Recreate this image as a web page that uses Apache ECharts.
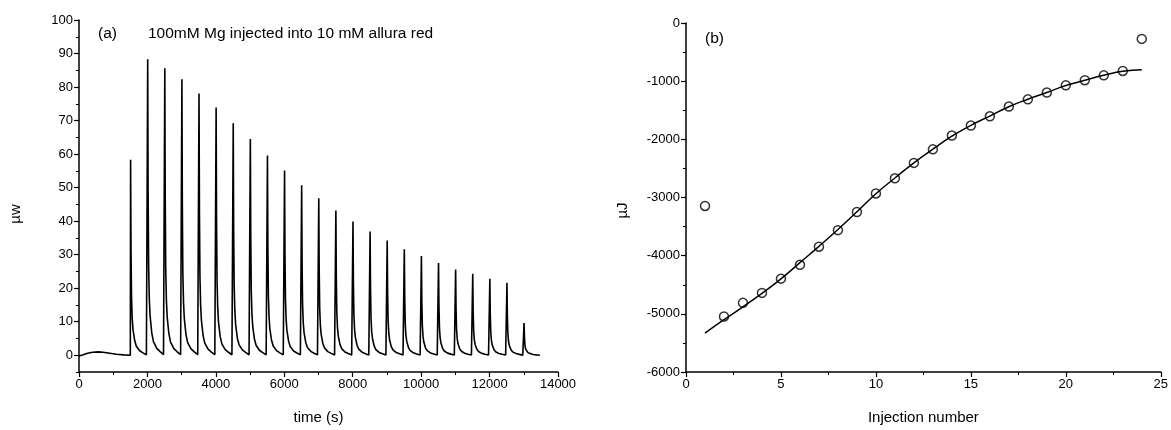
<!DOCTYPE html>
<html>
<head>
<meta charset="utf-8">
<script src="https://cdn.jsdelivr.net/npm/echarts@6/dist/echarts.min.js"></script>
<style>
  body { margin: 0; background: #fff; }
  #main { width: 1171px; height: 430px; }
</style>
</head>
<body>
<div id="main"></div>
<script>
// (a) thermogram: injection times (s) and peak heights (µw)
var injectionTimes = [1500, 2000, 2500, 3000, 3500, 4000, 4500, 5000, 5500, 6000, 6500, 7000,
  7500, 8000, 8500, 9000, 9500, 10000, 10500, 11000, 11500, 12000, 12500, 13000];
var peakHeights = [58.3, 88.3, 85.6, 82.3, 78.1, 73.9, 69.2, 64.5, 59.6, 55.1, 50.7, 46.8,
  43.2, 39.9, 36.9, 34.2, 31.6, 29.6, 27.5, 25.6, 24.3, 22.8, 21.6, 9.6];
// shape of one spike: seconds after injection / fraction of peak
var spikeOffsets = [0, 8, 20, 35, 55, 78, 127, 176, 273, 370, 470];
var spikeFractions = [0, 1, 0.55, 0.3, 0.19, 0.133, 0.075, 0.046, 0.023, 0.012, 0.002];
// pre-injection baseline
var baseTimes = [0, 100, 250, 400, 565, 700, 900, 1100, 1300, 1500];
var baseValues = [-0.2, 0.1, 0.6, 0.9, 1.0, 0.9, 0.6, 0.3, 0.1, 0];
var yTicksA = [0, 10, 20, 30, 40, 50, 60, 70, 80, 90, 100];
var yMinorA = [-5, 5, 15, 25, 35, 45, 55, 65, 75, 85, 95];

// (b) integrated heats (µJ) and fit
var injNumbers = [1, 2, 3, 4, 5, 6, 7, 8, 9, 10, 11, 12, 13, 14, 15, 16, 17, 18, 19, 20, 21, 22, 23, 24];
var heats = [-3145, -5045, -4811, -4640, -4395, -4157, -3846, -3561, -3249, -2930, -2670, -2405,
  -2172, -1935, -1763, -1604, -1437, -1313, -1196, -1072, -983, -900, -824, -273];
var fitHeats = [-5330, -5100, -4880, -4650, -4400, -4120, -3840, -3550, -3245, -2935, -2665, -2405,
  -2170, -1945, -1760, -1600, -1440, -1310, -1195, -1075, -985, -900, -830, -805];

var trace = [];
baseTimes.forEach(function (t, i) { trace.push([t, baseValues[i]]); });
injectionTimes.forEach(function (t0, i) {
  spikeOffsets.forEach(function (dt, k) {
    trace.push([t0 + dt, peakHeights[i] * spikeFractions[k]]);
  });
});
trace.push([13450, 0]);

var fitData = injNumbers.map(function (n, i) { return [n, fitHeats[i]]; });
var heatData = injNumbers.map(function (n, i) { return [n, heats[i]]; });

var font = 'Liberation Sans, Arial, sans-serif';
var plain = function (v) { return String(v); };
var axisLine = { show: true, onZero: false, lineStyle: { color: '#000', width: 1.5 } };
var tickStyle = { show: true, length: 5, lineStyle: { color: '#000', width: 1.2 } };
var minorStyle = { show: true, splitNumber: 2, length: 3, lineStyle: { color: '#000', width: 1 } };
var labelStyle = { color: '#000', fontSize: 13, fontFamily: font, margin: 6, formatter: plain };
var nameStyle = { color: '#000', fontSize: 15, fontFamily: font };
var titleStyle = { color: '#000', fontSize: 15.5, fontWeight: 'normal', fontFamily: font };

var chart = echarts.init(document.getElementById('main'));
chart.setOption({
  animation: false,
  backgroundColor: '#fff',
  title: [
    { text: '(a)', left: 93, top: 21, textStyle: titleStyle },
    { text: '100mM Mg injected into 10 mM allura red', left: 143, top: 21, textStyle: titleStyle },
    { text: '(b)', left: 700, top: 26, textStyle: titleStyle }
  ],
  grid: [
    { left: 79, top: 20, width: 479, height: 353 },
    { left: 686, top: 23, width: 479, height: 353 }
  ],
  xAxis: [
    {
      gridIndex: 0, type: 'value', min: 0, max: 14000, interval: 2000,
      name: 'time (s)', nameLocation: 'middle', nameGap: 38, nameTextStyle: nameStyle,
      axisLine: axisLine, axisTick: tickStyle, minorTick: minorStyle,
      axisLabel: labelStyle, splitLine: { show: false }
    },
    {
      gridIndex: 1, type: 'value', min: 0, max: 25, interval: 5,
      name: 'Injection number', nameLocation: 'middle', nameGap: 38, nameTextStyle: nameStyle,
      axisLine: axisLine, axisTick: tickStyle, minorTick: minorStyle,
      axisLabel: labelStyle, splitLine: { show: false }
    }
  ],
  yAxis: [
    {
      gridIndex: 0, type: 'value', min: -5, max: 100,
      name: 'µw', nameLocation: 'middle', nameGap: 56,
      nameTextStyle: Object.assign({ padding: [0, 36, 0, 0] }, nameStyle),
      axisLine: axisLine,
      axisTick: { show: true, length: 5, customValues: yTicksA, lineStyle: { color: '#000', width: 1.2 } },
      axisLabel: Object.assign({ customValues: yTicksA }, labelStyle),
      splitLine: { show: false }
    },
    {
      gridIndex: 0, type: 'value', min: -5, max: 100, position: 'left',
      axisLine: { show: false },
      axisTick: { show: true, length: 3, customValues: yMinorA, lineStyle: { color: '#000', width: 1 } },
      axisLabel: { show: false }, splitLine: { show: false }
    },
    {
      gridIndex: 1, type: 'value', min: -6000, max: 0, interval: 1000,
      name: 'µJ', nameLocation: 'middle', nameGap: 56,
      nameTextStyle: Object.assign({ padding: [0, 26, 0, 0] }, nameStyle),
      axisLine: axisLine, axisTick: tickStyle, minorTick: minorStyle,
      axisLabel: labelStyle, splitLine: { show: false }
    }
  ],
  series: [
    {
      type: 'line', xAxisIndex: 0, yAxisIndex: 0, data: trace,
      showSymbol: false, symbol: 'none',
      lineStyle: { color: '#000', width: 1.6 }
    },
    {
      type: 'line', xAxisIndex: 1, yAxisIndex: 2, data: fitData,
      smooth: true, showSymbol: false, symbol: 'none',
      lineStyle: { color: '#000', width: 1.5 }, z: 2
    },
    {
      type: 'scatter', xAxisIndex: 1, yAxisIndex: 2, data: heatData,
      symbol: 'circle', symbolSize: 9,
      itemStyle: { color: 'rgba(255,255,255,0)', borderColor: '#000', borderWidth: 1.5 }, z: 3
    }
  ]
});
</script>
</body>
</html>
